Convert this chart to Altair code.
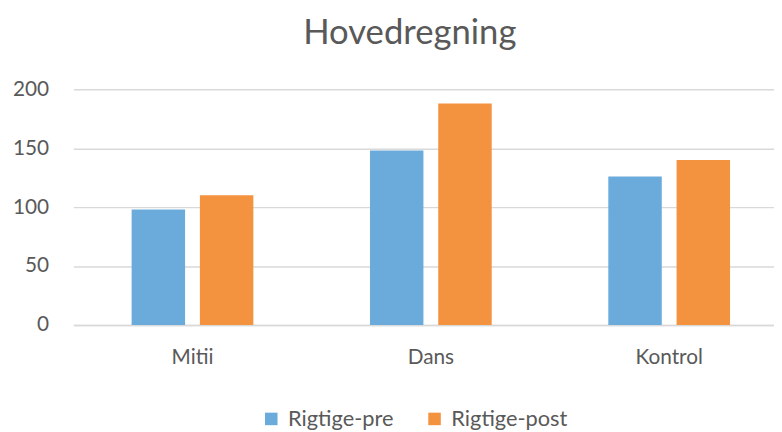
import altair as alt
import pandas as pd

categories = ["Mitii", "Dans", "Kontrol"]
series = ["Rigtige-pre", "Rigtige-post"]
pre_values = [98, 148, 126]
post_values = [110, 188, 140]
y_ticks = [0, 50, 100, 150, 200]
colors = ["#6aabdc", "#f3923f"]

rows = []
for c, a, b in zip(categories, pre_values, post_values):
    rows.append({"Kategori": c, "Serie": series[0], "Værdi": a})
    rows.append({"Kategori": c, "Serie": series[1], "Værdi": b})
df = pd.DataFrame(rows)

TXT = "#595959"
GRID = "#d9d9d9"
FONT = "Lato"

chart = alt.Chart(df).mark_bar().encode(
    x=alt.X("Kategori:N", sort=categories,
            scale=alt.Scale(range=[0, 722.5], paddingInner=0, paddingOuter=0),
            axis=alt.Axis(title=None, labelAngle=0, ticks=False, domain=True,
                          domainColor=GRID, domainWidth=1.5, labelPadding=22,
                          labelFontSize=21, labelColor=TXT, labelFont=FONT)),
    xOffset=alt.XOffset("Serie:N", sort=series,
                        scale=alt.Scale(paddingInner=0.217, paddingOuter=0.854)),
    y=alt.Y("Værdi:Q", scale=alt.Scale(domain=[0, 200], nice=False),
            axis=alt.Axis(title=None, values=y_ticks, grid=True, gridColor=GRID,
                          gridWidth=1.5, domain=False, ticks=False, labelPadding=25,
                          labelFontSize=21, labelColor=TXT, labelFont=FONT)),
    color=alt.Color("Serie:N", sort=series,
                    scale=alt.Scale(domain=series, range=colors),
                    legend=alt.Legend(title=None, orient="none", direction="horizontal",
                                      legendX=189, legendY=322, symbolType="square",
                                      symbolSize=160, symbolStrokeWidth=0,
                                      labelFontSize=22, labelColor=TXT, labelFont=FONT,
                                      labelOffset=6, columnPadding=30, padding=0)),
).properties(
    width=708,
    height=238,
    title=alt.TitleParams("Hovedregning", fontSize=35, font=FONT, color=TXT,
                          fontWeight="normal", anchor="middle", dx=-14, offset=28),
    autosize=alt.AutoSizeParams(type="none"),
    padding={"left": 66, "top": 80, "right": 0, "bottom": 106},
).configure_view(stroke=None)

chart.save("out.html", embed_options={"renderer": "svg", "actions": False})
